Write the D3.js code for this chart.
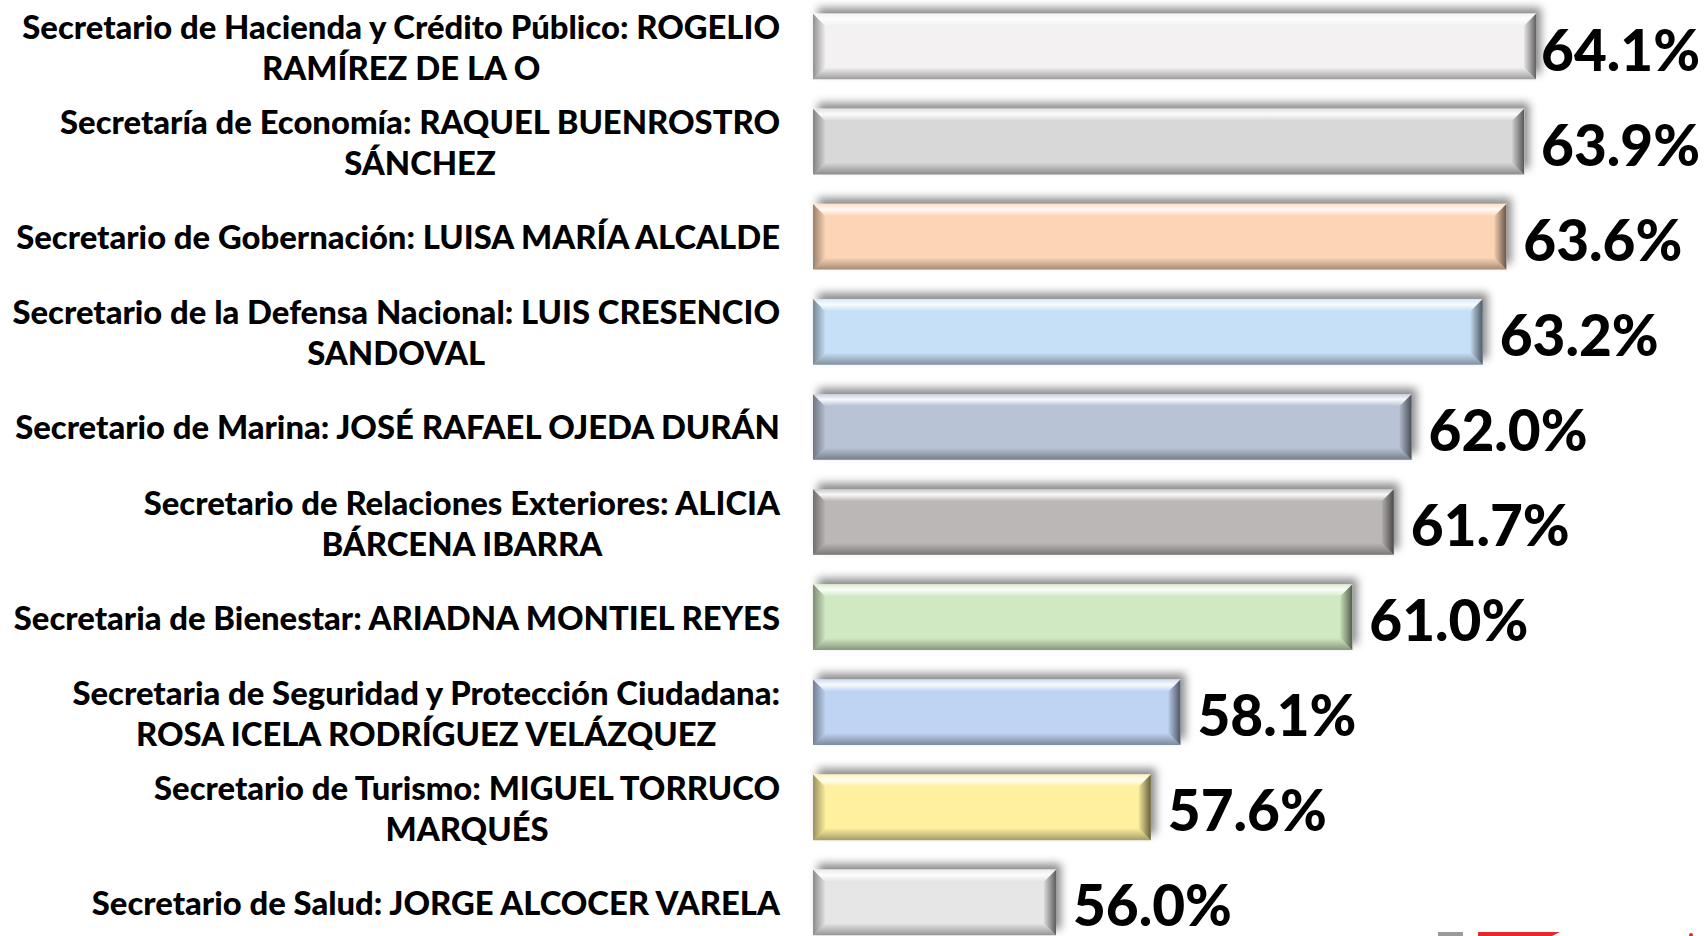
<!DOCTYPE html>
<html>
<head>
<meta charset="utf-8">
<script src="https://cdn.jsdelivr.net/npm/d3@7"></script>
<style>
  html, body { margin: 0; padding: 0; background: #fff; }
  svg { display: block; }
  .cat { font-family: Lato, "Open Sans", sans-serif; font-weight: 900; fill: #000; }
  .val { font-family: Lato, "Open Sans", sans-serif; font-weight: 900; fill: #000; }
</style>
</head>
<body>
<svg></svg>
<script>
// data, top to bottom
let lineOne = [
  "Secretario de Hacienda y Crédito Público: ROGELIO",
  "Secretaría de Economía: RAQUEL BUENROSTRO",
  "Secretario de Gobernación: LUISA MARÍA ALCALDE",
  "Secretario de la Defensa Nacional: LUIS CRESENCIO",
  "Secretario de Marina: JOSÉ RAFAEL OJEDA DURÁN",
  "Secretario de Relaciones Exteriores: ALICIA",
  "Secretaria de Bienestar: ARIADNA MONTIEL REYES",
  "Secretaria de Seguridad y Protección Ciudadana:",
  "Secretario de Turismo: MIGUEL TORRUCO",
  "Secretario de Salud: JORGE ALCOCER VARELA"
];
let lineTwo = [
  "RAMÍREZ DE LA O",
  "SÁNCHEZ",
  "",
  "SANDOVAL",
  "",
  "BÁRCENA IBARRA",
  "",
  "ROSA ICELA RODRÍGUEZ VELÁZQUEZ",
  "MARQUÉS",
  ""
];
let values = [64.1, 63.9, 63.6, 63.2, 62.0, 61.7, 61.0, 58.1, 57.6, 56.0];
let palette = ["#f3f1f2", "#d8d8d8", "#fdd5b6", "#c6e0f7", "#b8c3d5",
               "#bbb7b6", "#d1e9c3", "#bfd3f2", "#fef09f", "#e6e6e6"];

let width = 1704;
let height = 936;
let svg = d3.select("svg")
            .attr("width", width)
            .attr("height", height);

let ids = d3.range(values.length);

let x = d3.scaleLinear()
    .domain([51.9, 64.1])
    .range([813, 1536]);

let y = d3.scaleBand()
    .domain(ids)
    .range([-1, 950])
    .paddingInner(0.31)
    .paddingOuter(0.155);

let defs = svg.append("defs");

let shadow = defs.append("filter")
    .attr("id", "shadow")
    .attr("x", "-10%").attr("y", "-50%")
    .attr("width", "120%").attr("height", "200%");
shadow.append("feDropShadow")
    .attr("dx", 5).attr("dy", -6)
    .attr("stdDeviation", 4)
    .attr("flood-color", "#000")
    .attr("flood-opacity", 0.45);

function grad(id, x1, y1, x2, y2, stops) {
    let g = defs.append("linearGradient")
        .attr("id", id)
        .attr("x1", x1).attr("y1", y1)
        .attr("x2", x2).attr("y2", y2);
    stops.forEach(s => {
        g.append("stop")
            .attr("offset", s[0])
            .attr("stop-color", s[1])
            .attr("stop-opacity", s[2]);
    });
}

grad("bevTop", 0, 0, 0, 1, [[0, "#fff", 0.25], [0.45, "#fff", 0.9], [1, "#fff", 0]]);
grad("bevLeft", 0, 0, 1, 0, [[0, "#000", 0.4], [1, "#000", 0.03]]);
grad("bevBottom", 0, 0, 0, 1, [[0, "#000", 0], [1, "#000", 0.35]]);
grad("bevRight", 0, 0, 1, 0, [[0, "#000", 0.05], [1, "#000", 0.6]]);

let bev = 12;

let bars = svg.append("g")
    .attr("class", "bars")
    .selectAll("g")
    .data(ids)
    .enter()
    .append("g");

bars.append("rect")
    .attr("x", x.range()[0])
    .attr("y", d => y(d))
    .attr("width", d => x(values[d]) - x.range()[0])
    .attr("height", y.bandwidth())
    .attr("fill", d => palette[d])
    .attr("filter", "url(#shadow)");

// bevel faces
bars.each(function(d) {
    let g = d3.select(this);
    let x0 = x.range()[0], x1 = x(values[d]);
    let y0 = y(d), y1 = y(d) + y.bandwidth();
    let b = bev;
    let faces = [
        ["bevTop", [[x0, y0], [x1, y0], [x1 - b, y0 + b], [x0 + b, y0 + b]]],
        ["bevLeft", [[x0, y0], [x0 + b, y0 + b], [x0 + b, y1 - b], [x0, y1]]],
        ["bevBottom", [[x0 + b, y1 - b], [x1 - b, y1 - b], [x1, y1], [x0, y1]]],
        ["bevRight", [[x1 - b, y0 + b], [x1, y0], [x1, y1], [x1 - b, y1 - b]]]
    ];
    faces.forEach(f => {
        g.append("path")
            .attr("d", d3.line()(f[1]) + "Z")
            .attr("fill", `url(#${f[0]})`);
    });
});

// value labels, sized so "61.0%" is about 159px wide
let valSize = 55;
let probe = svg.append("text").attr("class", "val").style("font-size", valSize + "px").text("61.0%");
valSize = valSize * 159 / probe.node().getComputedTextLength();
probe.remove();

svg.append("g")
    .selectAll("text")
    .data(ids)
    .enter()
    .append("text")
    .attr("class", "val")
    .attr("x", d => x(values[d]) + 17)
    .attr("y", d => y(d) + y.bandwidth() / 2 + 2)
    .attr("dominant-baseline", "central")
    .style("font-size", valSize + "px")
    .text(d => values[d].toFixed(1) + "%")
    .each(function() {
        // keep the label inside the chart, as Excel does
        let t = d3.select(this);
        let w = this.getComputedTextLength();
        let lx = +t.attr("x");
        if (lx + w > width - 4) t.attr("x", width - 4 - w);
    });

// category labels, sized so the first line is about 758px wide
let catSize = 29;
let probe2 = svg.append("text").attr("class", "cat").style("font-size", catSize + "px").text(lineOne[0]);
catSize = catSize * 758 / probe2.node().getComputedTextLength();
probe2.remove();

let labelRight = 780;
let cats = svg.append("g")
    .selectAll("g")
    .data(ids)
    .enter()
    .append("g");

cats.each(function(d) {
    let g = d3.select(this);
    let cy = y(d) + y.bandwidth() / 2;
    let two = lineTwo[d] !== "";
    let t1 = g.append("text")
        .attr("class", "cat")
        .attr("x", labelRight)
        .attr("y", two ? cy - 20 : cy)
        .attr("text-anchor", "end")
        .attr("dominant-baseline", "central")
        .style("font-size", catSize + "px")
        .text(lineOne[d]);
    if (two) {
        let w = t1.node().getComputedTextLength();
        g.append("text")
            .attr("class", "cat")
            .attr("x", labelRight - w / 2)
            .attr("y", cy + 21)
            .attr("text-anchor", "middle")
            .attr("dominant-baseline", "central")
            .style("font-size", catSize + "px")
            .text(lineTwo[d]);
    }
});

// cut-off logo at the bottom edge
let logo = svg.append("g");
logo.append("rect").attr("x", 1438).attr("y", 932).attr("width", 25).attr("height", 4).attr("fill", "#9a9a9a");
logo.append("path").attr("d", "M1478,932L1560,932L1552,936L1478,936Z").attr("fill", "#e8262b");
logo.append("circle").attr("cx", 1691).attr("cy", 935).attr("r", 2).attr("fill", "#e8262b");
</script>
</body>
</html>
